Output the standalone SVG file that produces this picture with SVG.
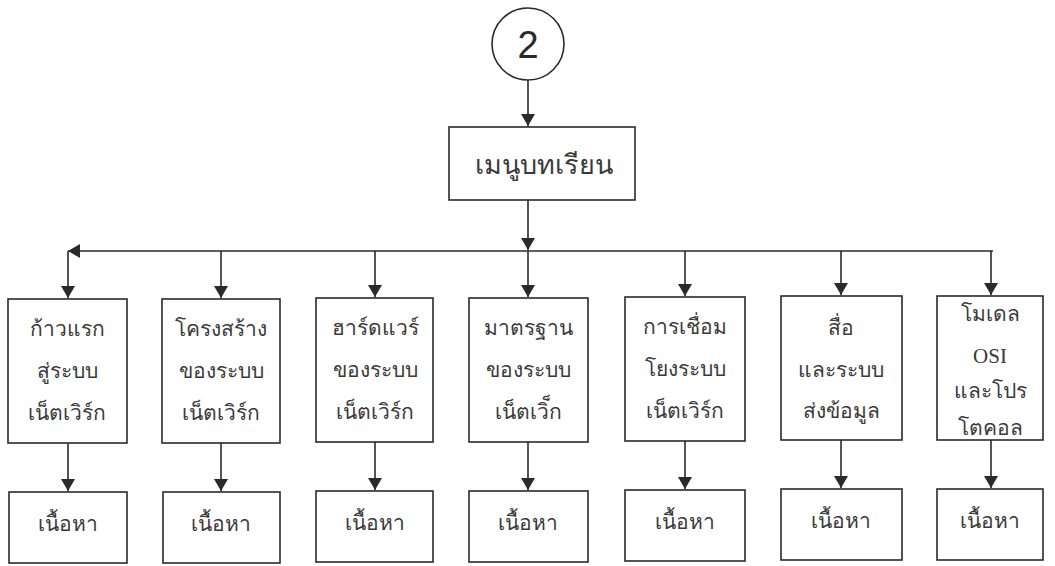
<svg xmlns="http://www.w3.org/2000/svg" width="1055" height="566" viewBox="0 0 1055 566">
  <style>
    .box { fill: #ffffff; stroke: #2a2a2a; stroke-width: 1.6; }
    .link { fill: none; stroke: #2a2a2a; stroke-width: 1.6; }
    .lbl { font-family: "Liberation Serif", "Noto Sans", serif; font-size: 21px; fill: #3a3a3a; text-anchor: middle; dominant-baseline: central; }
    .title { font-size: 27px; }
    .num { font-family: "Liberation Sans", Arial, sans-serif; font-size: 38px; fill: #2a2a2a; text-anchor: middle; dominant-baseline: central; }
  </style>
  <defs>
    <marker id="arrow" viewBox="0 0 12 14" refX="12" refY="7" markerWidth="12" markerHeight="14" markerUnits="userSpaceOnUse" orient="auto">
      <path d="M0,0 L12,7 L0,14 Z" fill="#2a2a2a"/>
    </marker>
  </defs>
  <rect width="1055" height="566" fill="#ffffff"/>

  <!-- connectors -->
  <g id="connectors">
    <line class="link" x1="528" y1="80" x2="528" y2="126" marker-end="url(#arrow)"/>
    <line class="link" x1="528" y1="200" x2="528" y2="250" marker-end="url(#arrow)"/>
    <line class="link" x1="993" y1="251" x2="68" y2="251" marker-end="url(#arrow)"/>
    <line class="link" x1="68" y1="251" x2="68" y2="298" marker-end="url(#arrow)"/>
    <line class="link" x1="221" y1="251" x2="221" y2="298" marker-end="url(#arrow)"/>
    <line class="link" x1="375" y1="251" x2="375" y2="297" marker-end="url(#arrow)"/>
    <line class="link" x1="528" y1="251" x2="528" y2="297" marker-end="url(#arrow)"/>
    <line class="link" x1="685" y1="251" x2="685" y2="296" marker-end="url(#arrow)"/>
    <line class="link" x1="841" y1="251" x2="841" y2="295" marker-end="url(#arrow)"/>
    <line class="link" x1="991" y1="251" x2="991" y2="295" marker-end="url(#arrow)"/>
    <line class="link" x1="68" y1="443" x2="68" y2="491" marker-end="url(#arrow)"/>
    <line class="link" x1="221" y1="443" x2="221" y2="491" marker-end="url(#arrow)"/>
    <line class="link" x1="375" y1="442" x2="375" y2="490" marker-end="url(#arrow)"/>
    <line class="link" x1="528" y1="442" x2="528" y2="490" marker-end="url(#arrow)"/>
    <line class="link" x1="685" y1="441" x2="685" y2="489" marker-end="url(#arrow)"/>
    <line class="link" x1="841" y1="440" x2="841" y2="488" marker-end="url(#arrow)"/>
    <line class="link" x1="991" y1="440" x2="991" y2="488" marker-end="url(#arrow)"/>
  </g>

  <!-- start connector -->
  <g id="start">
    <circle class="box" cx="528" cy="44" r="36"/>
    <text class="num" x="528" y="45">2</text>
  </g>

  <g id="menu">
    <rect class="box" x="449" y="127" width="186" height="73"/>
    <text class="lbl title" x="544" y="165">เมนูบทเรียน</text>
  </g>

  <!-- chapter nodes -->
  <g id="ch1">
    <rect class="box" x="8" y="299" width="119" height="144"/>
    <text class="lbl" x="67" y="329">ก้าวแรก</text>
    <text class="lbl" x="67" y="371">สู่ระบบ</text>
    <text class="lbl" x="67" y="413">เน็ตเวิร์ก</text>
  </g>
  <g id="ch2">
    <rect class="box" x="162" y="299" width="118" height="144"/>
    <text class="lbl" x="221" y="329">โครงสร้าง</text>
    <text class="lbl" x="221" y="371">ของระบบ</text>
    <text class="lbl" x="221" y="413">เน็ตเวิร์ก</text>
  </g>
  <g id="ch3">
    <rect class="box" x="316" y="298" width="117" height="144"/>
    <text class="lbl" x="375" y="328">ฮาร์ดแวร์</text>
    <text class="lbl" x="375" y="370">ของระบบ</text>
    <text class="lbl" x="375" y="412">เน็ตเวิร์ก</text>
  </g>
  <g id="ch4">
    <rect class="box" x="469" y="298" width="119" height="144"/>
    <text class="lbl" x="528" y="328">มาตรฐาน</text>
    <text class="lbl" x="528" y="370">ของระบบ</text>
    <text class="lbl" x="528" y="412">เน็ตเวิ็ก</text>
  </g>
  <g id="ch5">
    <rect class="box" x="625" y="297" width="120" height="144"/>
    <text class="lbl" x="685" y="327">การเชื่อม</text>
    <text class="lbl" x="685" y="369">โยงระบบ</text>
    <text class="lbl" x="685" y="411">เน็ตเวิร์ก</text>
  </g>
  <g id="ch6">
    <rect class="box" x="781" y="296" width="121" height="144"/>
    <text class="lbl" x="841" y="328">สื่อ</text>
    <text class="lbl" x="841" y="370">และระบบ</text>
    <text class="lbl" x="841" y="411">ส่งข้อมูล</text>
  </g>
  <g id="ch7">
    <rect class="box" x="937" y="296" width="106" height="144"/>
    <text class="lbl" x="990" y="314">โมเดล</text>
    <text class="lbl" x="990" y="356">OSI</text>
    <text class="lbl" x="990" y="391">และโปร</text>
    <text class="lbl" x="990" y="428">โตคอล</text>
  </g>

  <!-- content nodes -->
  <g id="c1"><rect class="box" x="9" y="492" width="118" height="71"/><text class="lbl" x="68" y="524">เนื้อหา</text></g>
  <g id="c2"><rect class="box" x="163" y="492" width="117" height="71"/><text class="lbl" x="221" y="524">เนื้อหา</text></g>
  <g id="c3"><rect class="box" x="316" y="491" width="117" height="71"/><text class="lbl" x="375" y="523">เนื้อหา</text></g>
  <g id="c4"><rect class="box" x="469" y="491" width="119" height="71"/><text class="lbl" x="528" y="523">เนื้อหา</text></g>
  <g id="c5"><rect class="box" x="625" y="490" width="120" height="71"/><text class="lbl" x="685" y="522">เนื้อหา</text></g>
  <g id="c6"><rect class="box" x="781" y="489" width="121" height="71"/><text class="lbl" x="841" y="521">เนื้อหา</text></g>
  <g id="c7"><rect class="box" x="937" y="489" width="106" height="71"/><text class="lbl" x="990" y="521">เนื้อหา</text></g>
</svg>
